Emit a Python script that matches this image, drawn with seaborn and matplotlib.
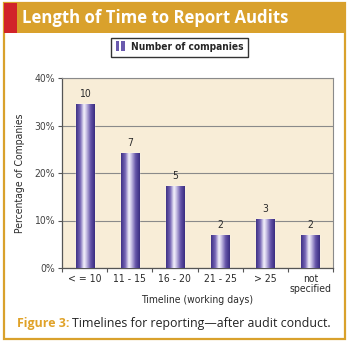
import numpy as np
import pandas as pd
import matplotlib
matplotlib.use("Agg")
import matplotlib.pyplot as plt
from matplotlib.patches import Rectangle
from matplotlib.legend_handler import HandlerBase
import seaborn as sns

# Data
categories = ["< = 10", "11 - 15", "16 - 20", "21 - 25", "> 25", "not\nspecified"]
companies = [10, 7, 5, 2, 3, 2]
y_ticks = [0, 10, 20, 30, 40]
y_tick_labels = ["0%", "10%", "20%", "30%", "40%"]

total = sum(companies)
percent = [c / total * 100 for c in companies]
df = pd.DataFrame({"timeline": categories, "pct": percent, "n": companies})

GOLD = "#D9A12C"
RED = "#D1232A"
PLOT_BG = "#F8EDD7"
PURPLE_DARK = "#4A3A8E"
TEXT = "#2b2b2b"

sns.set_theme(style="white")
plt.rcParams["font.family"] = ["DejaVu Sans"]
plt.rcParams["font.stretch"] = "condensed"

fig = plt.figure(figsize=(3.5, 3.46), dpi=100)
fig.patch.set_facecolor("white")

W, H = 350.0, 346.0
def fx(px):
    return px / W
def fy(py):
    return 1 - py / H

ax = fig.add_axes([fx(62), fy(268), fx(333) - fx(62), fy(78) - fy(268)])
ax.set_facecolor(PLOT_BG)

sns.barplot(data=df, x="timeline", y="pct", ax=ax, color=PURPLE_DARK,
            width=0.4, saturation=1, zorder=3)

# cylinder-like shading across each bar
stops = np.array([0.0, 0.22, 0.42, 0.52, 0.78, 1.0])
cols = np.array([matplotlib.colors.to_rgb(c) for c in
                 ["#3F3186", "#7565B5", "#F4F2FB", "#D5CEEC", "#6454A8", "#3A2C80"]])
xs = np.linspace(0, 1, 64)
grad = np.stack([np.interp(xs, stops, cols[:, k]) for k in range(3)], axis=-1)[None, :, :]
for p in ax.patches:
    x0, y0 = p.get_x(), p.get_y()
    w, h = p.get_width(), p.get_height()
    im = ax.imshow(grad, extent=[x0, x0 + w, y0, y0 + h], aspect="auto",
                   zorder=4, interpolation="bilinear")
    im.set_clip_path(p)

for i, (v, n) in enumerate(zip(percent, companies)):
    ax.text(i, v + 1.1, str(n), ha="center", va="bottom", fontsize=7.5, color=TEXT)

ax.set_xlim(-0.5, len(categories) - 0.5)
ax.set_ylim(0, 40)
ax.set_yticks(y_ticks)
ax.set_yticklabels(y_tick_labels, fontsize=7.5, color="#444444")
ax.set_xticks(range(len(categories)))
ax.set_xticklabels(categories, fontsize=7.5, color=TEXT, linespacing=1.0)
ax.set_xticks(np.arange(-0.5, len(categories), 1.0), minor=True)
ax.tick_params(axis="x", which="major", length=0, pad=4)
ax.tick_params(axis="x", which="minor", length=3, width=0.8, color="#555555",
               direction="out", bottom=True)
ax.tick_params(axis="y", length=3, width=0.8, color="#555555", direction="out",
               left=True, pad=2)
ax.yaxis.grid(True, color="#8a8a8a", linewidth=0.8, zorder=1)
ax.set_axisbelow(True)
for side in ["top", "right"]:
    ax.spines[side].set_color("#8a8a8a")
    ax.spines[side].set_linewidth(0.8)
for side in ["left", "bottom"]:
    ax.spines[side].set_color("#555555")
    ax.spines[side].set_linewidth(0.9)

ax.set_xlabel("Timeline (working days)", fontsize=7.5, color=TEXT, labelpad=1)
ax.set_ylabel("Percentage of Companies", fontsize=7.5, color=TEXT, labelpad=7)


# legend handle: two slim purple bars
class TwoBars(HandlerBase):
    def create_artists(self, legend, orig, xd, yd, width, height, fontsize, trans):
        bw = width * 0.38
        r1 = Rectangle((xd, yd - height * 0.15), bw, height * 1.3, facecolor="#6A5AAE",
                       edgecolor="none", transform=trans)
        r2 = Rectangle((xd + width - bw, yd - height * 0.15), bw, height * 1.3,
                       facecolor="#6A5AAE", edgecolor="none", transform=trans)
        return [r1, r2]

handle = Rectangle((0, 0), 1, 1)
leg = fig.legend([handle], ["Number of companies"], handler_map={Rectangle: TwoBars()},
                 loc="center", bbox_to_anchor=(fx(179.5), fy(47.5)), frameon=True,
                 fancybox=False, prop={"weight": "bold", "size": 7.3, "stretch": "condensed"},
                 handlelength=0.9, handleheight=0.85, handletextpad=0.6,
                 borderpad=0.45, borderaxespad=0)
leg.get_frame().set_edgecolor("black")
leg.get_frame().set_linewidth(1.0)

# frame and banner
fig.add_artist(Rectangle((fx(4), fy(339)), fx(345) - fx(4), fy(3) - fy(339),
                         transform=fig.transFigure, facecolor="none",
                         edgecolor=GOLD, linewidth=1.6, zorder=0))
fig.add_artist(Rectangle((fx(4), fy(33)), fx(345) - fx(4), fy(3) - fy(33),
                         transform=fig.transFigure, facecolor=GOLD,
                         edgecolor="none", zorder=1))
fig.add_artist(Rectangle((fx(4), fy(33)), fx(17) - fx(4), fy(3) - fy(33),
                         transform=fig.transFigure, facecolor=RED,
                         edgecolor="none", zorder=2))
fig.text(fx(22), fy(18), "Length of Time to Report Audits", color="white",
         fontsize=12.1, fontweight="bold", family=["Open Sans", "DejaVu Sans"],
         fontstretch="normal", ha="left", va="center")

# caption
cap1 = fig.text(fx(17), fy(324), "Figure 3:", color="#E0A228", fontsize=8.9,
                fontweight="bold", family=["Open Sans", "DejaVu Sans"],
                fontstretch="normal", ha="left", va="center")
fig.canvas.draw()
bb = cap1.get_window_extent()
fig.text(bb.x1 / fig.bbox.width + 0.008, fy(324),
         "Timelines for reporting\u2014after audit conduct.", color="#222222",
         fontsize=8.9, family=["Open Sans", "DejaVu Sans"], fontstretch="normal",
         ha="left", va="center")

fig.savefig("out.png", dpi=100, facecolor="white")
